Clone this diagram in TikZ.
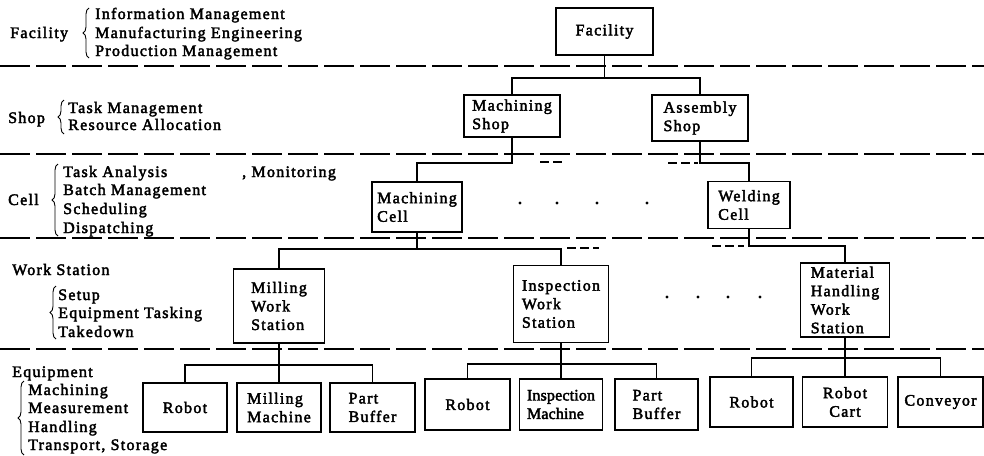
\documentclass[tikz,border=0pt]{standalone}
\usepackage{fontspec}
\setmainfont{Liberation Serif}[LetterSpace=8,FakeBold=2.5]
\usetikzlibrary{decorations.pathreplacing}
\tikzset{
  every node/.style={font=\fontsize{16}{18.5}\selectfont},
  box/.style={draw, line width=1.7pt, inner sep=0pt, align=left},
  conn/.style={line width=1.2pt},
  sep/.style={line width=1.2pt, dash pattern=on 30pt off 6pt},
  stub/.style={line width=1.2pt, dash pattern=on 9pt off 4pt},
  lbl/.style={anchor=base west, inner sep=0pt},
  brc/.style={line width=0.9pt, decorate, decoration={brace, amplitude=6pt}},
  dotm/.style={fill=black}
}
\begin{document}
\begin{tikzpicture}[x=1pt,y=-1pt]
\useasboundingbox (0,0) rectangle (984,455);

% separators
\foreach \yy/\nm in {66/a,154/b,238/c,349/d}{
  \coordinate (sl\nm) at (0,\yy);
  \coordinate (sr\nm) at (984,\yy);
  \draw[sep] (sl\nm) -- (sr\nm);
}

% left descriptions
\node[lbl] (lfac) at (10,38) {Facility};
\node[lbl] (lim) at (95,19) {Information Management};
\node[lbl] (lme) at (95,38) {Manufacturing Engineering};
\node[lbl] (lpm) at (95,56) {Production Management};
\draw[brc] (89,58) -- (89,8);

\node[lbl] (lshop) at (8,123) {Shop};
\node[lbl] (ltm) at (68,113) {Task Management};
\node[lbl] (lra) at (68,130) {Resource Allocation};
\draw[brc] (64,134) -- (64,100);

\node[lbl] (lcell) at (8,205) {Cell};
\node[lbl] (lta) at (63,177) {Task Analysis};
\node[lbl] (lmon) at (242,177) {, Monitoring};
\node[lbl] (lbm) at (63,195) {Batch Management};
\node[lbl] (lsch) at (63,214) {Scheduling};
\node[lbl] (ldis) at (63,233) {Dispatching};
\draw[brc] (58,236) -- (58,164);

\node[lbl] (lws) at (12,275) {Work Station};
\node[lbl] (lset) at (58,300) {Setup};
\node[lbl] (let) at (58,318) {Equipment Tasking};
\node[lbl] (ltk) at (58,337) {Takedown};
\draw[brc] (56,339) -- (56,286);

\node[lbl] (leq) at (12,377) {Equipment};
\node[lbl] (lma) at (28,395) {Machining};
\node[lbl] (lmea) at (28,413) {Measurement};
\node[lbl] (lhan) at (28,432) {Handling};
\node[lbl] (ltr) at (28,450) {Transport, Storage};
\draw[brc] (24,455) -- (24,381);

% boxes
\node[box, minimum width=97pt, minimum height=47pt] (fac) at (604.5,31.5) {Facility};
\node[box, minimum width=96pt, minimum height=42pt] (mshop) at (512,116) {Machining\\Shop};
\node[box, minimum width=96pt, minimum height=46pt] (ashop) at (700,118) {Assembly\\Shop};
\node[box, minimum width=90pt, minimum height=50pt] (mcell) at (417,207) {Machining\\Cell};
\node[box, minimum width=82pt, minimum height=47pt] (wcell) at (749,205) {Welding\\Cell};
\node[box, minimum width=91pt, minimum height=74pt] (mws) at (279,306) {Milling\\Work\\Station};
\node[box, minimum width=95pt, minimum height=77pt] (iws) at (561,304) {Inspection\\Work\\Station};
\node[box, minimum width=89pt, minimum height=74pt] (mhws) at (845,300) {Material\\Handling\\Work\\Station};

\node[box, minimum width=84pt, minimum height=49pt] (r1) at (185,407.5) {Robot};
\node[box, minimum width=84pt, minimum height=49pt] (mm) at (279,407.5) {Milling\\Machine};
\node[box, minimum width=85pt, minimum height=49pt] (pb1) at (372.5,407.5) {Part\\Buffer};
\node[box, minimum width=85pt, minimum height=51pt] (r2) at (467.5,404.5) {Robot};
\node[box, minimum width=83pt, minimum height=51pt, font=\fontsize{16}{18.5}\selectfont\addfontfeatures{LetterSpace=1}] (im) at (561,404.5) {Inspection\\Machine};
\node[box, minimum width=83pt, minimum height=51pt] (pb2) at (656.5,404.5) {Part\\Buffer};
\node[box, minimum width=83pt, minimum height=50pt] (r3) at (751.5,402) {Robot};
\node[box, minimum width=85pt, minimum height=50pt, align=center] (rc) at (845,402) {Robot\\Cart};
\node[box, minimum width=85pt, minimum height=50pt] (cv) at (940.5,402) {Conveyor};

% tree connectors
\coordinate (j1) at (fac.south |- 0,78);
\draw[conn] (fac.south) -- (j1) -| (mshop.north);
\draw[conn] (j1) -| (ashop.north);

\coordinate (j2) at (mshop.south |- 0,163);
\draw[conn] (mshop.south) -- (j2) -| (mcell.north);
\coordinate (s2a) at (540,162); \coordinate (s2b) at (565,162);
\draw[stub] (s2a) -- (s2b);

\coordinate (j3) at (ashop.south |- 0,163);
\draw[conn] (ashop.south) -- (j3) -| (wcell.north);
\coordinate (s3a) at (668,163); \coordinate (s3b) at (698,163);
\draw[stub] (s3a) -- (s3b);

\coordinate (j4) at (mcell.south |- 0,249);
\draw[conn] (mcell.south) -- (j4) -| (mws.north);
\draw[conn] (j4) -| (iws.north);
\coordinate (s4a) at (567,248); \coordinate (s4b) at (599,248);
\draw[stub] (s4a) -- (s4b);

\coordinate (j5) at (wcell.south |- 0,246);
\draw[conn] (wcell.south) -- (j5) -| (mhws.north);
\coordinate (s5a) at (712,246); \coordinate (s5b) at (744,246);
\draw[stub] (s5a) -- (s5b);

\coordinate (j6) at (mws.south |- 0,365);
\draw[conn] (mws.south) -- (mm.north);
\draw[conn] (r1.north) |- (j6) -| (pb1.north);

\coordinate (j7) at (iws.south |- 0,364);
\draw[conn] (iws.south) -- (im.north);
\draw[conn] (r2.north) |- (j7) -| (pb2.north);

\coordinate (j8) at (mhws.south |- 0,358);
\draw[conn] (mhws.south) -- (rc.north);
\draw[conn] (r3.north) |- (j8) -| (cv.north);

% continuation dots
\foreach \xx in {520,557,597,647}{ \fill[dotm] (\xx,203) circle (1.6pt); }
\foreach \xx in {667,698,728,760}{ \fill[dotm] (\xx,297) circle (1.6pt); }
\end{tikzpicture}
\end{document}
